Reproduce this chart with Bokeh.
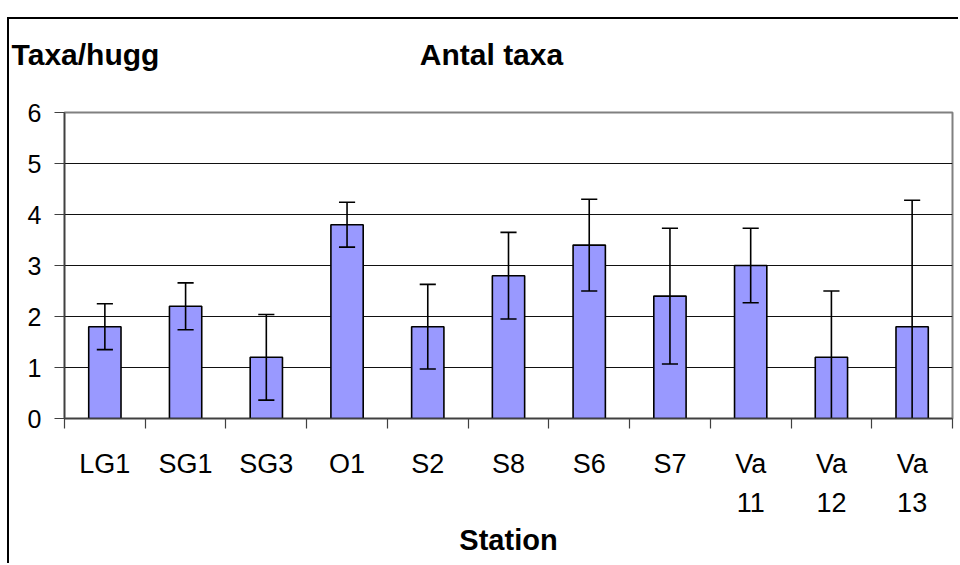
from bokeh.plotting import figure
from bokeh.models import (ColumnDataSource, Range1d, LinearAxis, FixedTicker, Grid)
from bokeh.embed import file_html
from bokeh.resources import INLINE

# ---- data ----
stations = ["LG1", "SG1", "SG3", "O1", "S2", "S8", "S6", "S7", "Va\n11", "Va\n12", "Va\n13"]
means = [1.8, 2.2, 1.2, 3.8, 1.8, 2.8, 3.4, 2.4, 3.0, 1.2, 1.8]
errors = [0.45, 0.46, 0.84, 0.44, 0.83, 0.85, 0.90, 1.33, 0.73, 1.30, 2.48]
y_ticks = [0, 1, 2, 3, 4, 5, 6]
grid_ticks = [1, 2, 3, 4, 5]
title_text = "Antal taxa"
y_title_text = "Taxa/hugg"
x_title_text = "Station"

FONT = "Liberation Sans"

# ---- layout (pixels, inside the framed canvas) ----
W, H = 951, 546
F_LEFT, F_RIGHT, F_TOP, F_BOTTOM = 55, 943, 93, 399
n = len(stations)
Y_MAX = 6


def px_x(px):
    return (px - F_LEFT) * n / (F_RIGHT - F_LEFT)


centers = [i + 0.5 for i in range(n)]
upper = [m + e for m, e in zip(means, errors)]
lower_raw = [m - e for m, e in zip(means, errors)]
lower = [max(0.0, v) for v in lower_raw]
cap_half = 0.1

src = ColumnDataSource(dict(x=centers, mean=means, upper=upper, lower=lower,
                            xl=[c - cap_half for c in centers],
                            xr=[c + cap_half for c in centers]))
low_caps = ColumnDataSource(dict(
    xl=[c - cap_half for c, l in zip(centers, lower_raw) if l >= 0],
    xr=[c + cap_half for c, l in zip(centers, lower_raw) if l >= 0],
    lower=[l for l in lower_raw if l >= 0],
))

p = figure(width=W, height=H,
           x_range=Range1d(0, n), y_range=Range1d(0, Y_MAX),
           x_axis_location=None, y_axis_location=None,
           toolbar_location=None, output_backend="svg",
           min_border_left=F_LEFT, min_border_right=W - F_RIGHT,
           min_border_top=F_TOP, min_border_bottom=H - F_BOTTOM)
p.styles = {"margin-left": "7px", "margin-top": "17px",
            "border-left": "2px solid black", "border-top": "2px solid black"}
p.xgrid.visible = False
p.ygrid.visible = False
p.outline_line_color = "#808080"
p.outline_line_width = 2
p.background_fill_color = "white"
p.border_fill_color = "white"

p.add_layout(Grid(dimension=1, ticker=FixedTicker(ticks=grid_ticks),
                  grid_line_color="#111111", grid_line_width=1))

# bars
p.vbar(x="x", top="mean", bottom=0, width=0.4, source=src,
       fill_color="#9999FF", line_color="black", line_width=1.6)

# error bars
p.segment(x0="x", y0="lower", x1="x", y1="upper", source=src,
          line_color="black", line_width=1.6)
p.segment(x0="xl", y0="upper", x1="xr", y1="upper", source=src,
          line_color="black", line_width=1.6)
p.segment(x0="xl", y0="lower", x1="xr", y1="lower", source=low_caps,
          line_color="black", line_width=1.6)

# y axis
yaxis = LinearAxis(ticker=FixedTicker(ticks=y_ticks),
                   major_tick_out=10, major_tick_in=0,
                   minor_tick_out=0, minor_tick_in=0,
                   major_label_standoff=13,
                   major_label_text_font=FONT, major_label_text_font_size="25px",
                   major_label_text_color="black",
                   axis_line_color="#404040", axis_line_width=1.5,
                   major_tick_line_color="#404040", major_tick_line_width=1.2)
p.add_layout(yaxis, "left")

# x axis: boundary ticks
tick_axis = LinearAxis(ticker=FixedTicker(ticks=list(range(n + 1))),
                       major_tick_out=10, major_tick_in=0,
                       minor_tick_out=0, minor_tick_in=0,
                       major_label_text_font_size="0px", major_label_text_color=None,
                       major_label_standoff=0,
                       axis_line_color="#404040", axis_line_width=1.5,
                       major_tick_line_color="#404040", major_tick_line_width=1.2)
p.add_layout(tick_axis, "below")

# x axis: station labels
cat_axis = LinearAxis(ticker=FixedTicker(ticks=centers),
                      major_label_overrides={c: s for c, s in zip(centers, stations)},
                      major_tick_line_color=None, axis_line_color=None,
                      major_tick_out=0, major_tick_in=0,
                      minor_tick_out=0, minor_tick_in=0,
                      major_label_standoff=20,
                      major_label_text_font=FONT, major_label_text_font_size="27px",
                      major_label_text_color="black",
                      major_label_text_line_height=1.3,
                      axis_label=x_title_text, axis_label_standoff=3,
                      axis_label_text_font=FONT, axis_label_text_font_size="29px",
                      axis_label_text_font_style="bold",
                      axis_label_text_color="black")
p.add_layout(cat_axis, "below")

# titles row above the plot area (chart title and y-axis title)
title_pos = [px_x(76), px_x(482)]
top_axis = LinearAxis(ticker=FixedTicker(ticks=title_pos),
                      major_label_overrides={title_pos[0]: y_title_text,
                                             title_pos[1]: title_text},
                      major_tick_line_color=None, axis_line_color=None,
                      major_tick_out=0, major_tick_in=0,
                      minor_tick_out=0, minor_tick_in=0,
                      major_label_standoff=42,
                      major_label_text_font=FONT, major_label_text_font_size="30px",
                      major_label_text_font_style="bold",
                      major_label_text_color="black")
p.add_layout(top_axis, "above")

open("out.html", "w").write(file_html(p, INLINE))
